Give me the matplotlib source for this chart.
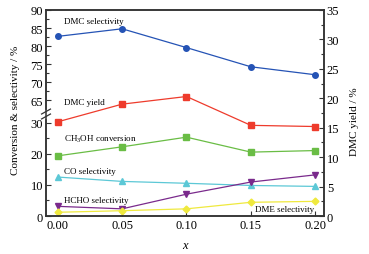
import numpy as np
import matplotlib
matplotlib.use('Agg')
import matplotlib.pyplot as plt
from matplotlib.ticker import FixedLocator, MultipleLocator

plt.rcParams['font.family'] = ['Liberation Serif', 'DejaVu Serif']
plt.rcParams['mathtext.fontset'] = 'stix'
plt.rcParams['mathtext.default'] = 'regular'

# Datos
x = [0.00, 0.05, 0.10, 0.15, 0.20]
dmc_selectividad = [82.7, 84.8, 79.6, 74.3, 72.1]
ch3oh_conversion = [19.3, 22.2, 25.3, 20.5, 21.0]
co_selectividad = [12.5, 11.1, 10.5, 9.8, 9.5]
hcho_selectividad = [3.1, 2.3, 7.0, 10.9, 13.2]
dme_selectividad = [1.2, 1.7, 2.3, 4.4, 4.7]
dmc_rendimiento = [16.0, 19.0, 20.3, 15.4, 15.2]

# Eje izquierdo cortado: 0-33 abajo, 61.4-90 arriba
B1, B2, K = 32.9, 61.4, 3.6 / 3.1


def adelante(v):
    v = np.asarray(v, dtype=float)
    return np.where(v <= B1, v, np.where(v >= B2, B1 + K * (v - B2), B1))


def inversa(u):
    u = np.asarray(u, dtype=float)
    return np.where(u <= B1, u, B2 + (u - B1) / K)


fig = plt.figure(figsize=(3.69, 2.55), dpi=100)
ax = fig.add_axes([0.1247, 0.149, 0.7533, 0.808])
ax.set_yscale('function', functions=(adelante, inversa))
ax.set_ylim(0, 90)
ax.set_xlim(-0.0091, 0.2068)

ax.plot(x, dmc_selectividad, '-o', color='#2553b5', lw=0.9, ms=4)
ax.plot(x, ch3oh_conversion, '-s', color='#6abd45', lw=0.9, ms=4)
ax.plot(x, co_selectividad, '-^', color='#5cc8d6', lw=0.9, ms=4)
ax.plot(x, hcho_selectividad, '-v', color='#7a2a8c', lw=0.9, ms=4)
ax.plot(x, dme_selectividad, '-D', color='#efe93e', lw=0.9, ms=3.5)

ax2 = ax.twinx()
ax2.set_ylim(0, 35)
ax2.plot(x, dmc_rendimiento, '-s', color='#ee3b2c', lw=0.9, ms=4)

ax.yaxis.set_major_locator(FixedLocator([0, 10, 20, 30, 65, 70, 75, 80, 85, 90]))
ax.yaxis.set_minor_locator(FixedLocator([5, 15, 25, 67.5, 72.5, 77.5, 82.5, 87.5]))
ax.yaxis.set_major_formatter(matplotlib.ticker.FormatStrFormatter('%d'))
ax.yaxis.set_minor_formatter(matplotlib.ticker.NullFormatter())
ax.set_xticks(x)
ax.set_xticklabels(['0.00', '0.05', '0.10', '0.15', '0.20'])
ax2.yaxis.set_major_locator(MultipleLocator(5))
ax2.yaxis.set_minor_locator(MultipleLocator(2.5))

for a in (ax, ax2):
    a.tick_params(which='both', direction='in', labelsize=9, color='#333333', pad=2)
    a.tick_params(which='major', length=3.5, width=0.8)
    a.tick_params(which='minor', length=2, width=0.8)
    for s in a.spines.values():
        s.set_linewidth(1.1)
        s.set_color('#333333')
ax.tick_params(axis='x', which='minor', length=0)

ax.set_ylabel('Conversion & selectivity / %', fontsize=8)
ax.yaxis.set_label_coords(-0.094, 0.517)
ax2.set_ylabel('DMC yield / %', fontsize=8)
ax2.yaxis.set_label_coords(1.094, 0.461)
ax.set_xlabel('x', fontsize=9, style='italic')
ax.xaxis.set_label_coords(0.5, -0.112)

# Marca de corte en el eje izquierdo
yb = 0.495
ax.add_patch(plt.Rectangle((-0.01, yb - 0.02), 0.02, 0.04, transform=ax.transAxes,
                           color='white', clip_on=False, zorder=5))
for d in (-0.012, 0.012):
    ax.plot([-0.016, 0.016], [yb + d - 0.012, yb + d + 0.012], transform=ax.transAxes,
            color='#333333', lw=0.9, clip_on=False, zorder=6)

# Etiquetas de las series
kw = dict(transform=ax.transAxes, fontsize=6.5, ha='left', va='center')
ax.text(0.065, 0.948, 'DMC selectivity', **kw)
ax.text(0.065, 0.553, 'DMC yield', **kw)
ax.text(0.065, 0.379, 'CH$_3$OH conversion', **kw)
ax.text(0.065, 0.218, 'CO selectivity', **kw)
ax.text(0.065, 0.078, 'HCHO selectivity', **kw)
ax.text(0.752, 0.034, 'DME selectivity', **kw)

plt.savefig('out.png', dpi=100)
